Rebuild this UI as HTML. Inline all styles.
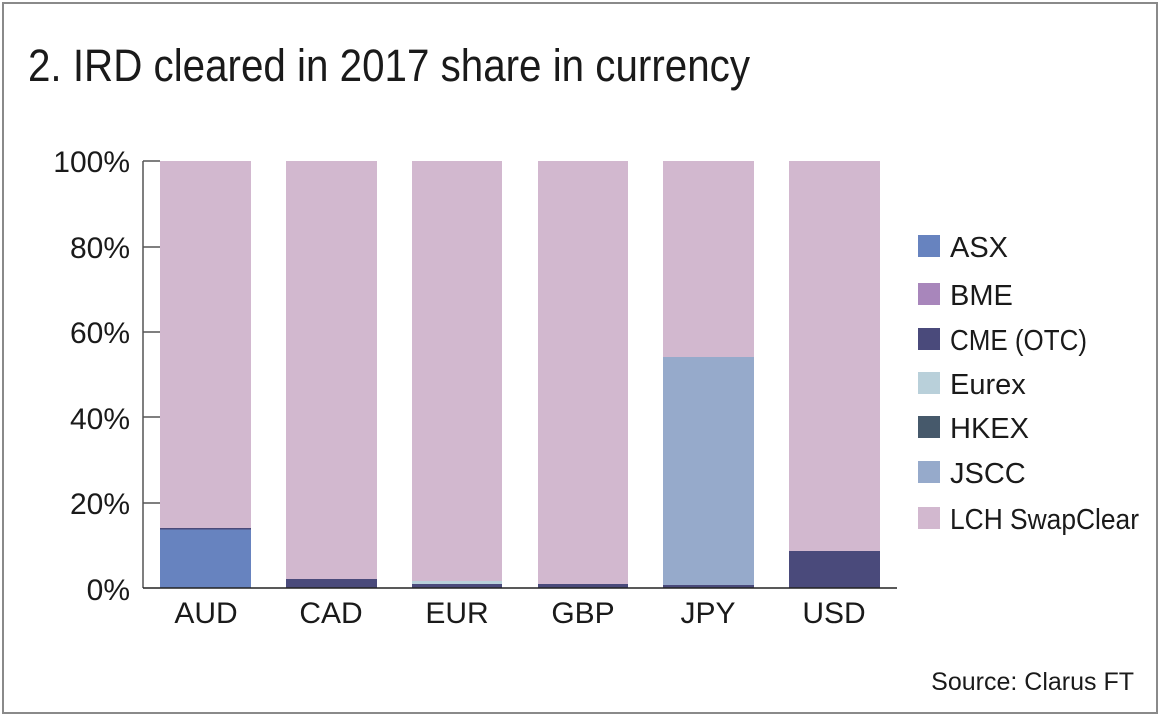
<!DOCTYPE html>
<html><head><style>
body{margin:0;width:1160px;height:716px;background:#fff;overflow:hidden}
.f{position:absolute;left:2px;top:2px;width:1152px;height:708px;border:2px solid #8a8a8a}
text{font-family:"Liberation Sans Narrow","Liberation Sans",sans-serif;fill:#1a1a1a}
</style></head><body>
<div class="f"></div>
<svg width="1160" height="716" style="position:absolute;left:0;top:0">
<text x="28" y="81" font-size="45" textLength="722" lengthAdjust="spacingAndGlyphs">2. IRD cleared in 2017 share in currency</text>
<g font-size="30" text-anchor="end">
<text x="130" y="172">100%</text><text x="130" y="258">80%</text><text x="130" y="343">60%</text>
<text x="130" y="429">40%</text><text x="130" y="514">20%</text><text x="130" y="600">0%</text>
</g>
<g stroke="#555" stroke-width="1.5">
<line x1="143" y1="161" x2="143" y2="588"/>
<line x1="143" y1="161" x2="160" y2="161"/><line x1="143" y1="247" x2="160" y2="247"/>
<line x1="143" y1="332" x2="160" y2="332"/><line x1="143" y1="417" x2="160" y2="417"/>
<line x1="143" y1="503" x2="160" y2="503"/>
</g>
<g fill="#d2b8cf">
<rect x="160" y="161" width="91" height="427"/><rect x="286" y="161" width="91" height="427"/>
<rect x="412" y="161" width="90" height="427"/><rect x="538" y="161" width="90" height="427"/>
<rect x="663" y="161" width="91" height="427"/><rect x="789" y="161" width="91" height="427"/>
</g>
<rect x="160" y="529" width="91" height="59" fill="#6783bf"/>
<rect x="160" y="528" width="91" height="1.5" fill="#4a4a7a"/>
<rect x="286" y="579" width="91" height="9" fill="#4a4a7b"/>
<rect x="412" y="581" width="90" height="3" fill="#b9d0da"/>
<rect x="412" y="584" width="90" height="4" fill="#4a4a7b"/>
<rect x="538" y="584" width="90" height="4" fill="#4a4a7b"/>
<rect x="663" y="357" width="91" height="229" fill="#96aacb"/>
<rect x="663" y="585" width="91" height="3" fill="#4a4a7b"/>
<rect x="789" y="551" width="91" height="37" fill="#4a4a7b"/>
<line x1="143" y1="588" x2="897" y2="588" stroke="#222" stroke-width="1.5"/>
<g font-size="30" text-anchor="middle">
<text x="206" y="623">AUD</text><text x="331" y="623">CAD</text><text x="457" y="623">EUR</text>
<text x="583" y="623">GBP</text><text x="708" y="623">JPY</text><text x="834" y="623">USD</text>
</g>
<g>
<rect x="918" y="235" width="22" height="22" fill="#6783bf"/>
<rect x="918" y="283" width="22" height="22" fill="#a886bb"/>
<rect x="918" y="328" width="22" height="22" fill="#4a4a7b"/>
<rect x="918" y="372" width="22" height="22" fill="#b9d0da"/>
<rect x="918" y="416" width="22" height="22" fill="#46596b"/>
<rect x="918" y="461" width="22" height="22" fill="#96aacb"/>
<rect x="918" y="507" width="22" height="22" fill="#d2b8cf"/>
</g>
<g font-size="29">
<text x="950" y="257">ASX</text><text x="950" y="305">BME</text><text x="950" y="350" textLength="137" lengthAdjust="spacingAndGlyphs">CME (OTC)</text>
<text x="950" y="394">Eurex</text><text x="950" y="438">HKEX</text><text x="950" y="483">JSCC</text>
<text x="950" y="529" textLength="189" lengthAdjust="spacingAndGlyphs">LCH SwapClear</text>
</g>
<text x="1134" y="690" font-size="25" text-anchor="end">Source: Clarus FT</text>
</svg>
</body></html>
